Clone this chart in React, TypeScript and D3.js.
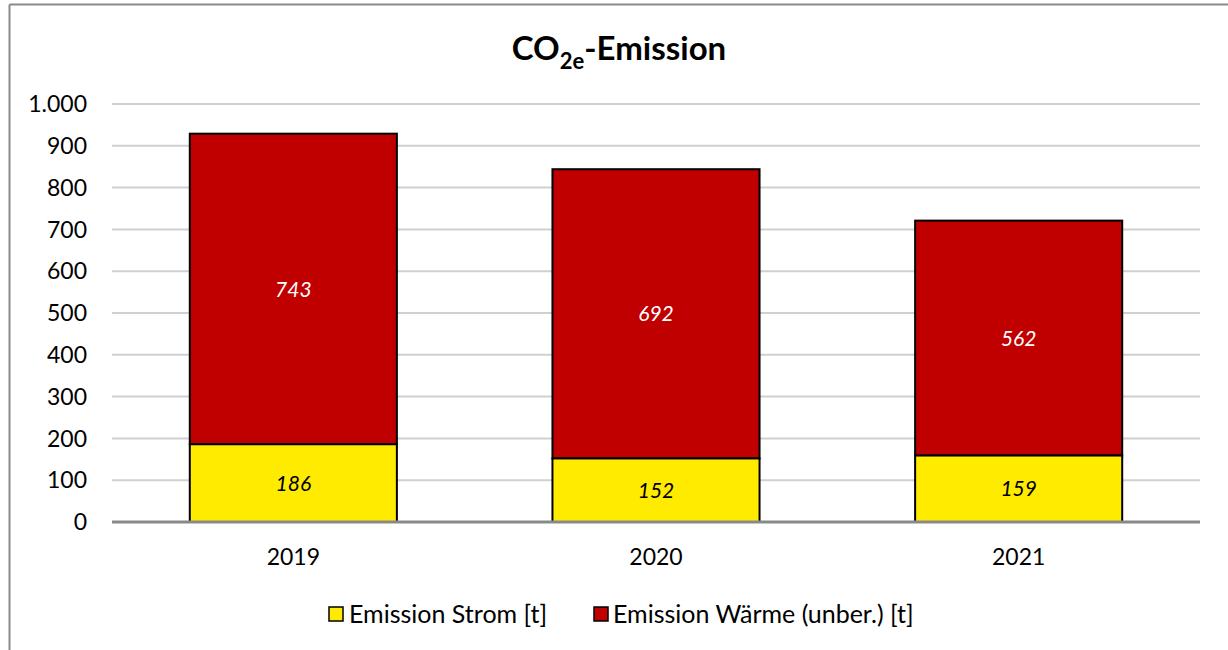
import * as d3 from 'd3';
import React from 'react';

const years = ['2019', '2020', '2021'];
const strom = [186, 152, 159];
const waerme = [743, 692, 562];
const yTicks = [0, 100, 200, 300, 400, 500, 600, 700, 800, 900, 1000];

const width = 1228;
const height = 650;
const font = 'Lato, "Open Sans", sans-serif';

export default function App() {
  const x = d3.scaleBand<string>().domain(years).range([112, 1200]).padding(0);
  const y = d3.scaleLinear().domain([0, 1000]).range([522, 104]);
  const barW = x.bandwidth() * 0.571;
  const fmt = (v: number) => (v >= 1000 ? d3.format(',')(v).replace(',', '.') : String(v));

  return (
    <svg width={width} height={height} style={{ position: 'absolute', left: 0, top: 0, fontFamily: font }}>
      <rect x={0} y={0} width={width} height={height} fill="#fff" />
      {/* chart frame */}
      <line x1={9.5} x2={9.5} y1={4.5} y2={height} stroke="#898989" strokeWidth={2} />
      <line x1={9.5} x2={width} y1={4.5} y2={4.5} stroke="#898989" strokeWidth={2} />

      <text x={619} y={60} textAnchor="middle" fontSize={33} fontWeight="bold" fill="#000">
        CO<tspan fontSize={22} dy={9}>2e</tspan><tspan dy={-9}>-Emission</tspan>
      </text>

      {yTicks.map(t => (
        <g key={t}>
          {t > 0 && (
            <line x1={112} x2={1200} y1={y(t)} y2={y(t)} stroke="#d0d0d0" strokeWidth={2} />
          )}
          <text x={87} y={y(t)} dy="0.36em" textAnchor="end" fontSize={23} fill="#000">
            {fmt(t)}
          </text>
        </g>
      ))}

      {years.map((yr, i) => {
        const cx = (x(yr) as number) + x.bandwidth() / 2;
        const x0 = cx - barW / 2;
        const s = strom[i];
        const w = waerme[i];
        return (
          <g key={yr}>
            <rect x={x0} y={y(s + w)} width={barW} height={y(s) - y(s + w)} fill="#C00000" stroke="#000" strokeWidth={2} />
            <rect x={x0} y={y(s)} width={barW} height={y(0) - y(s)} fill="#FFEB00" stroke="#000" strokeWidth={2} />
            <text x={cx} y={(y(s + w) + y(s)) / 2} dy="0.36em" textAnchor="middle" fontSize={21} fontStyle="italic" fill="#fff">
              {w}
            </text>
            <text x={cx} y={(y(s) + y(0)) / 2} dy="0.36em" textAnchor="middle" fontSize={21} fontStyle="italic" fill="#000">
              {s}
            </text>
            <text x={cx} y={557} dy="0.36em" textAnchor="middle" fontSize={23} fill="#000">
              {yr}
            </text>
          </g>
        );
      })}

      <line x1={112} x2={1200} y1={y(0)} y2={y(0)} stroke="#898989" strokeWidth={3} />

      {/* legend */}
      <rect x={329} y={607} width={14} height={14} fill="#FFEB00" stroke="#000" strokeWidth={1.5} />
      <text x={349} y={614} dy="0.36em" fontSize={25} fill="#000">Emission Strom [t]</text>
      <rect x={594} y={607} width={14} height={14} fill="#C00000" stroke="#000" strokeWidth={1.5} />
      <text x={613} y={614} dy="0.36em" fontSize={25} fill="#000">Emission Wärme (unber.) [t]</text>
    </svg>
  );
}
